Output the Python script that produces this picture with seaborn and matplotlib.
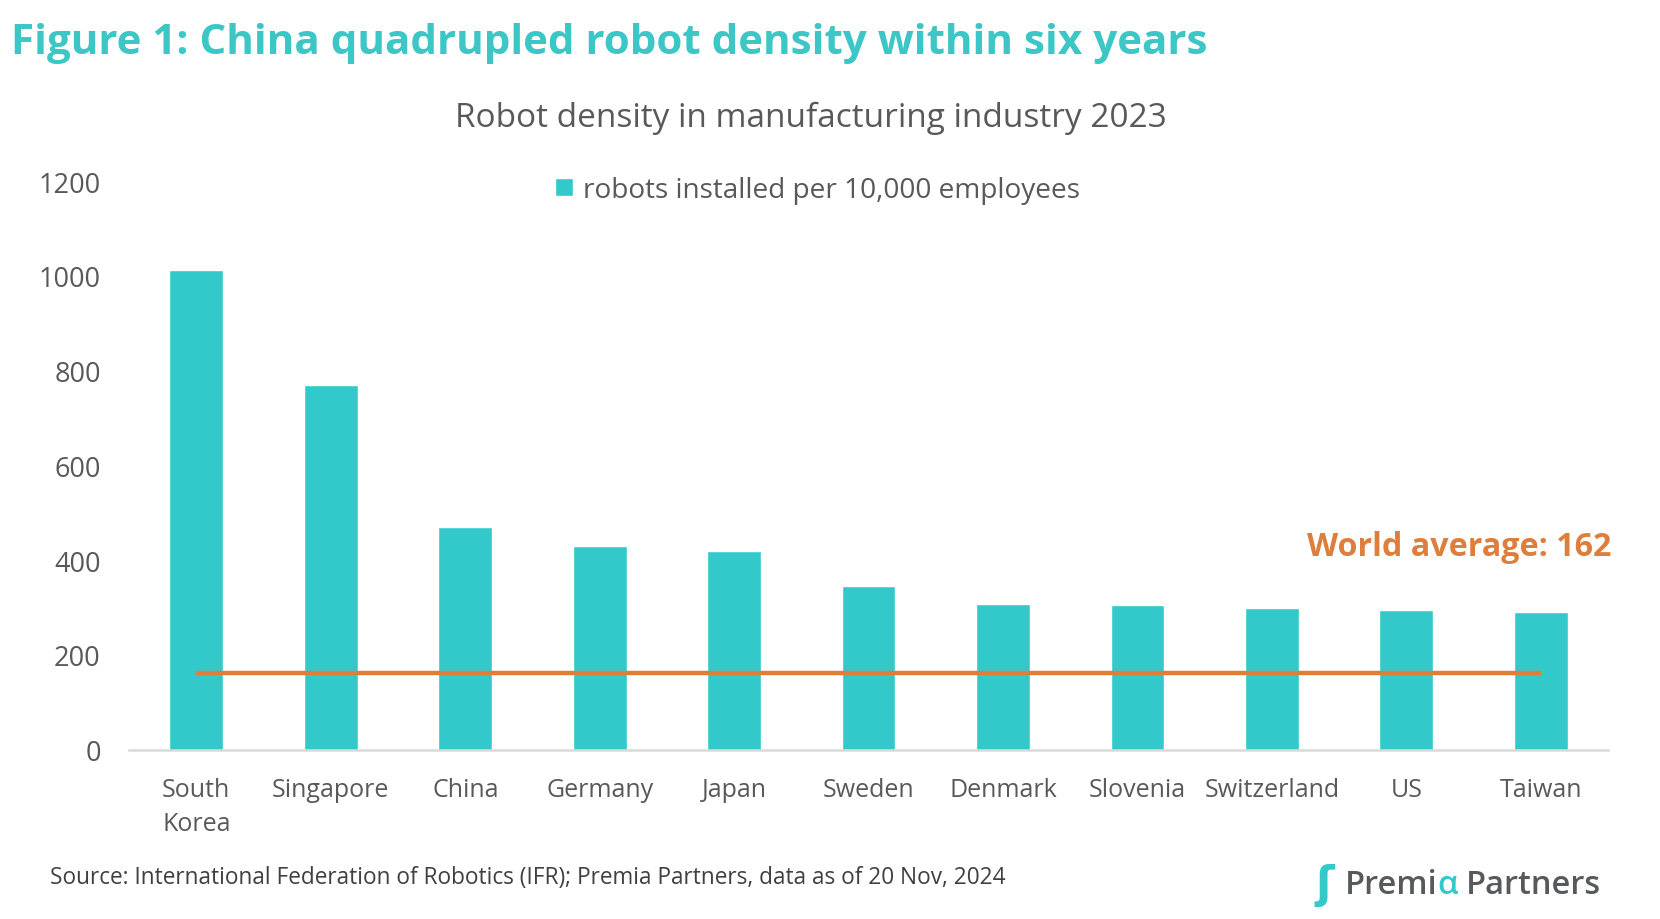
import pandas as pd
import numpy as np
import seaborn as sns
import matplotlib.pyplot as plt

# Data (IFR robot density 2023)
countries = ['South\nKorea', 'Singapore', 'China', 'Germany', 'Japan', 'Sweden',
             'Denmark', 'Slovenia', 'Switzerland', 'US', 'Taiwan']
density = [1012, 770, 470, 429, 419, 345, 307, 305, 300, 295, 291]
world_avg = 162
y_ticks = [0, 200, 400, 600, 800, 1000, 1200]

teal = '#33C9CB'
orange = '#DE7E3C'
grey = '#595959'

df = pd.DataFrame({'country': countries, 'density': density})

sns.set_theme(style='white')
plt.rcParams['font.family'] = ['Open Sans', 'DejaVu Sans']

fig = plt.figure(figsize=(16.6, 9.2), dpi=100)
ax = fig.add_axes([0.0778, 0.184, 0.9687 - 0.0778, 0.802 - 0.184])

sns.barplot(data=df, x='country', y='density', color=teal, saturation=1,
            width=0.4, ax=ax, label='robots installed per 10,000 employees')

# world average line across the bar centres
ax.hlines(world_avg, 0, len(countries) - 1, color=orange, lw=3.2, zorder=3)

ax.set_xlim(-0.5, len(countries) - 0.5)
ax.set_ylim(0, 1200)
ax.set_yticks(y_ticks)
ax.set_xlabel('')
ax.set_ylabel('')
ax.tick_params(axis='both', length=0, labelcolor=grey)
ax.tick_params(axis='x', pad=20, labelsize=18)
ax.tick_params(axis='y', pad=20.5, labelsize=19.5)
for lbl in ax.get_xticklabels():
    lbl.set_linespacing(1.45)
    lbl.set_verticalalignment('top')

sns.despine(ax=ax, left=True)
ax.spines['bottom'].set_color('#D9D9D9')
ax.spines['bottom'].set_linewidth(1.8)

ax.legend(loc='center', bbox_to_anchor=(0.4923, 0.7925), bbox_transform=fig.transFigure,
          frameon=False, fontsize=20.2, labelcolor=grey, handlelength=0.65,
          handleheight=0.65, handletextpad=0.35)

# titles
fig.text(0.0064, 0.9525, 'Figure 1: China quadrupled robot density within six years',
         fontsize=30.3, fontweight='bold', color='#3CC6C6', va='center', ha='left')
fig.text(0.4885, 0.8715, 'Robot density in manufacturing industry 2023',
         fontsize=24, color=grey, va='center', ha='center')
fig.text(0.9707, 0.405, f'World average: {world_avg}', fontsize=23.2,
         fontweight='bold', color=orange, va='center', ha='right')
fig.text(0.030, 0.046,
         'Source: International Federation of Robotics (IFR); Premia Partners, data as of 20 Nov, 2024',
         fontsize=16.3, color='#404040', va='center', ha='left')

# logo text with teal alpha
fig.canvas.draw()
renderer = fig.canvas.get_renderer()
x = 0.81
for part, col in [('Premi', '#58595B'), ('α', teal), ('Partners', '#58595B')]:
    t = fig.text(x, 0.038, part, fontsize=23.5, fontweight='semibold', color=col,
                 va='center', ha='left')
    bb = t.get_window_extent(renderer)
    x += bb.width / fig.bbox.width + (0.005 if part == 'α' else 0)
fig.text(0.798, 0.037, 'ʃ', fontsize=32, fontweight='bold', color=teal,
         va='center', ha='center', family=['DejaVu Sans'])

fig.savefig('out.png', dpi=100, facecolor='white')
